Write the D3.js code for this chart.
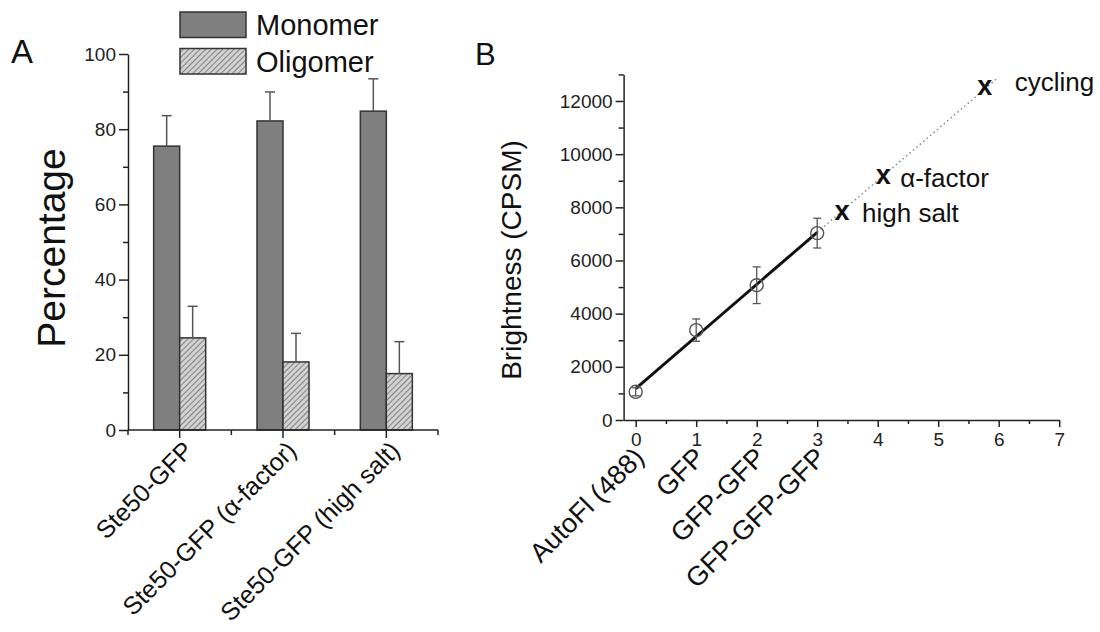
<!DOCTYPE html>
<html>
<head>
<meta charset="utf-8">
<script src="https://cdn.jsdelivr.net/npm/d3@7"></script>
<style>
  body { margin: 0; background: #fff; }
  text { font-family: "Liberation Sans", Arial, sans-serif; }
</style>
</head>
<body>
<script>
// Panel A data: monomer / oligomer percentages
var categoriesA = ["Ste50-GFP", "Ste50-GFP (\u03b1-factor)", "Ste50-GFP (high salt)"];
var monomer = [75.5, 82.2, 84.8];
var monomerErr = [8.1, 7.7, 8.6];
var oligomer = [24.5, 18.1, 15.0];
var oligomerErr = [8.4, 7.6, 8.5];
var yTicksA = [0, 20, 40, 60, 80, 100];
var yMinorA = [10, 30, 50, 70, 90];

// Panel B data: brightness vs number of GFP copies
var constructs = ["AutoFl (488)", "GFP", "GFP-GFP", "GFP-GFP-GFP"];
var gfpCopies = [0, 1, 2, 3];
var brightness = [1060, 3380, 5070, 7030];
var brightnessErr = [150, 420, 690, 560];
var fitLine = [[0, 1180], [3, 7060]];
var fitExtension = [[3, 7060], [5.97, 12840]];
var conditions = ["high salt", "\u03b1-factor", "cycling"];
var conditionX = [3.41, 4.09, 5.77];
var conditionY = [7770, 9147, 12470];
var xTicksB = [0, 1, 2, 3, 4, 5, 6, 7];
var xMinorB = [0.5, 1.5, 2.5, 3.5, 4.5, 5.5, 6.5];
var yTicksB = [0, 2000, 4000, 6000, 8000, 10000, 12000];
var yMinorB = [1000, 3000, 5000, 7000, 9000, 11000, 13000];

var width = 1100, height = 632;

const svg = d3.select("body")
    .append("svg")
    .attr("width", width)
    .attr("height", height);

// hatch for the oligomer bars
const defs = svg.append("defs");
const pat = defs.append("pattern")
    .attr("id", "hatch")
    .attr("patternUnits", "userSpaceOnUse")
    .attr("width", 4).attr("height", 4)
    .attr("patternTransform", "rotate(45)");
pat.append("rect").attr("width", 4).attr("height", 4).attr("fill", "#d2d2d2");
pat.append("line").attr("x1", 0).attr("y1", 0).attr("x2", 0).attr("y2", 4)
    .attr("stroke", "#747474").attr("stroke-width", 1.7);

var axisColor = "#222";

//PANEL A
const gA = svg.append("g");

var xA = d3.scaleBand()
    .domain(categoriesA)
    .range([128, 438]);

var yA = d3.scaleLinear()
    .domain([0, 100])
    .range([430, 54]);

var barW = 26;

// monomer bars (left of the category centre)
gA.selectAll(".mono")
    .data(monomer)
    .join("rect")
    .attr("x", (d, i) => xA(categoriesA[i]) + xA.bandwidth() / 2 - barW)
    .attr("y", d => yA(d))
    .attr("width", barW)
    .attr("height", d => yA(0) - yA(d))
    .attr("fill", "#7f7f7f")
    .attr("stroke", "#333")
    .attr("stroke-width", 1.5);

// oligomer bars (right of the category centre)
gA.selectAll(".oligo")
    .data(oligomer)
    .join("rect")
    .attr("x", (d, i) => xA(categoriesA[i]) + xA.bandwidth() / 2)
    .attr("y", d => yA(d))
    .attr("width", barW)
    .attr("height", d => yA(0) - yA(d))
    .attr("fill", "url(#hatch)")
    .attr("stroke", "#333")
    .attr("stroke-width", 1.5);

// upper error bars
function errA(vals, errs, shift) {
    vals.forEach(function(v, i) {
        var cx = xA(categoriesA[i]) + xA.bandwidth() / 2 + shift;
        gA.append("line")
            .attr("x1", cx).attr("x2", cx)
            .attr("y1", yA(v)).attr("y2", yA(v + errs[i]))
            .attr("stroke", "#555").attr("stroke-width", 1.5);
        gA.append("line")
            .attr("x1", cx - 5).attr("x2", cx + 5)
            .attr("y1", yA(v + errs[i])).attr("y2", yA(v + errs[i]))
            .attr("stroke", "#555").attr("stroke-width", 1.5);
    });
}
errA(monomer, monomerErr, -barW / 2);
errA(oligomer, oligomerErr, barW / 2);

// y axis A
gA.append("g")
    .attr("transform", "translate(128,0)")
    .call(d3.axisLeft(yA).tickValues(yMinorA).tickSize(5).tickFormat("").tickSizeOuter(0))
    .call(g => g.select(".domain").remove());
gA.append("g")
    .attr("transform", "translate(128,0)")
    .call(d3.axisLeft(yA).tickValues(yTicksA).tickSize(9).tickPadding(3).tickSizeOuter(0))
    .call(g => g.select(".domain").attr("stroke-width", 1.5));

// x axis A: major ticks at categories, minor at band edges
var bandEdges = [0, 1, 2, 3].map(i => 128 + i * xA.bandwidth());
const xAxisA = gA.append("g").attr("transform", "translate(0,430)");
xAxisA.append("line").attr("x1", 128).attr("x2", 438)
    .attr("stroke", axisColor).attr("stroke-width", 1.5);
xAxisA.selectAll(".maj").data(categoriesA).join("line")
    .attr("x1", d => xA(d) + xA.bandwidth() / 2).attr("x2", d => xA(d) + xA.bandwidth() / 2)
    .attr("y1", 0).attr("y2", 8)
    .attr("stroke", axisColor).attr("stroke-width", 1.5);
xAxisA.selectAll(".min").data(bandEdges).join("line")
    .attr("x1", d => d).attr("x2", d => d)
    .attr("y1", 0).attr("y2", 5)
    .attr("stroke", axisColor).attr("stroke-width", 1.5);
xAxisA.selectAll("text").data(categoriesA).join("text")
    .attr("transform", d => `translate(${xA(d) + xA.bandwidth() / 2 + 15},22) rotate(-45)`)
    .attr("text-anchor", "end")
    .attr("font-size", 25)
    .attr("fill", "#111")
    .text(d => d);

gA.selectAll(".tick text").attr("font-size", 19).attr("fill", "#222")
    .attr("font-family", "Liberation Sans, Arial, sans-serif");
gA.selectAll(".tick line, .domain").attr("stroke", axisColor).attr("stroke-width", 1.5);

// y label A
gA.append("text")
    .attr("transform", "translate(65,248) rotate(-90)")
    .attr("text-anchor", "middle")
    .attr("font-size", 39)
    .attr("fill", "#111")
    .text("Percentage");

// panel letter
svg.append("text").attr("x", 11).attr("y", 63).attr("font-size", 33).attr("fill", "#111").text("A");

// legend
var legendItems = ["Monomer", "Oligomer"];
var legendFill = ["#7f7f7f", "url(#hatch)"];
const legend = svg.append("g").attr("transform", "translate(180,12)");
legend.selectAll("rect").data(legendItems).join("rect")
    .attr("x", 0).attr("y", (d, i) => i * 36.5)
    .attr("width", 66).attr("height", 25.5)
    .attr("fill", (d, i) => legendFill[i])
    .attr("stroke", "#333").attr("stroke-width", 1.5);
legend.selectAll("text").data(legendItems).join("text")
    .attr("x", 76).attr("y", (d, i) => 23 + i * 36.5)
    .attr("font-size", 29)
    .attr("fill", "#111")
    .text(d => d);

//PANEL B
const gB = svg.append("g");

var xB = d3.scaleLinear()
    .domain([-0.2, 7])
    .range([623.6, 1059.2]);

var yB = d3.scaleLinear()
    .domain([0, 13000])
    .range([420, 74.4]);

// y axis B
gB.append("g")
    .attr("transform", "translate(623.6,0)")
    .call(d3.axisLeft(yB).tickValues(yMinorB).tickSize(5).tickFormat("").tickSizeOuter(0))
    .call(g => g.select(".domain").remove());
gB.append("g")
    .attr("transform", "translate(623.6,0)")
    .call(d3.axisLeft(yB).tickValues(yTicksB).tickSize(8).tickPadding(3).tickFormat(d3.format("d")).tickSizeOuter(0));

// x axis B
gB.append("g")
    .attr("transform", "translate(0,420)")
    .call(d3.axisBottom(xB).tickValues(xMinorB).tickSize(4).tickFormat("").tickSizeOuter(0))
    .call(g => g.select(".domain").remove());
gB.append("g")
    .attr("transform", "translate(0,420)")
    .call(d3.axisBottom(xB).tickValues(xTicksB).tickSize(7).tickPadding(6).tickSizeOuter(0));

gB.selectAll(".tick text").attr("font-size", 19).attr("fill", "#222")
    .attr("font-family", "Liberation Sans, Arial, sans-serif");
gB.selectAll(".tick line, .domain").attr("stroke", axisColor).attr("stroke-width", 1.5);

// rotated construct labels under the x axis
gB.selectAll(".construct").data(constructs).join("text")
    .attr("transform", (d, i) => `translate(${xB(gfpCopies[i]) + 10},459) rotate(-45)`)
    .attr("text-anchor", "end")
    .attr("font-size", 27)
    .attr("fill", "#111")
    .text(d => d);

// y label B
gB.append("text")
    .attr("transform", "translate(521,260) rotate(-90)")
    .attr("text-anchor", "middle")
    .attr("font-size", 28)
    .attr("fill", "#111")
    .text("Brightness (CPSM)");

svg.append("text").attr("x", 475).attr("y", 65).attr("font-size", 31).attr("fill", "#111").text("B");

var line = d3.line().x(d => xB(d[0])).y(d => yB(d[1]));

// dotted extrapolation
gB.append("path")
    .datum(fitExtension)
    .attr("d", line)
    .attr("fill", "none")
    .attr("stroke", "#888")
    .attr("stroke-width", 1.5)
    .attr("stroke-dasharray", "1.5,3");

// linear fit
gB.append("path")
    .datum(fitLine)
    .attr("d", line)
    .attr("fill", "none")
    .attr("stroke", "#111")
    .attr("stroke-width", 3);

// error bars and open circles
gfpCopies.forEach(function(c, i) {
    var cx = xB(c);
    var lo = yB(brightness[i] - brightnessErr[i]);
    var hi = yB(brightness[i] + brightnessErr[i]);
    gB.append("line").attr("x1", cx).attr("x2", cx).attr("y1", lo).attr("y2", hi)
        .attr("stroke", "#555").attr("stroke-width", 1.3);
    [lo, hi].forEach(function(yy) {
        gB.append("line").attr("x1", cx - 4).attr("x2", cx + 4).attr("y1", yy).attr("y2", yy)
            .attr("stroke", "#555").attr("stroke-width", 1.3);
    });
});
gB.selectAll(".pt").data(brightness).join("circle")
    .attr("cx", (d, i) => xB(gfpCopies[i]))
    .attr("cy", d => yB(d))
    .attr("r", 6.5)
    .attr("fill", "none")
    .attr("stroke", "#555")
    .attr("stroke-width", 1.4);

// condition markers
var labelOffset = {"high salt": [20, 9], "\u03b1-factor": [17, 10], "cycling": [30, 3]};
conditions.forEach(function(c, i) {
    var cx = xB(conditionX[i]), cy = yB(conditionY[i]);
    gB.append("text")
        .attr("x", cx).attr("y", cy + 7)
        .attr("text-anchor", "middle")
        .attr("font-size", 27)
        .attr("font-weight", "bold")
        .attr("fill", "#111")
        .text("x");
    gB.append("text")
        .attr("x", cx + labelOffset[c][0]).attr("y", cy + labelOffset[c][1])
        .attr("font-size", 26)
        .attr("fill", "#111")
        .text(c);
});
</script>
</body>
</html>
